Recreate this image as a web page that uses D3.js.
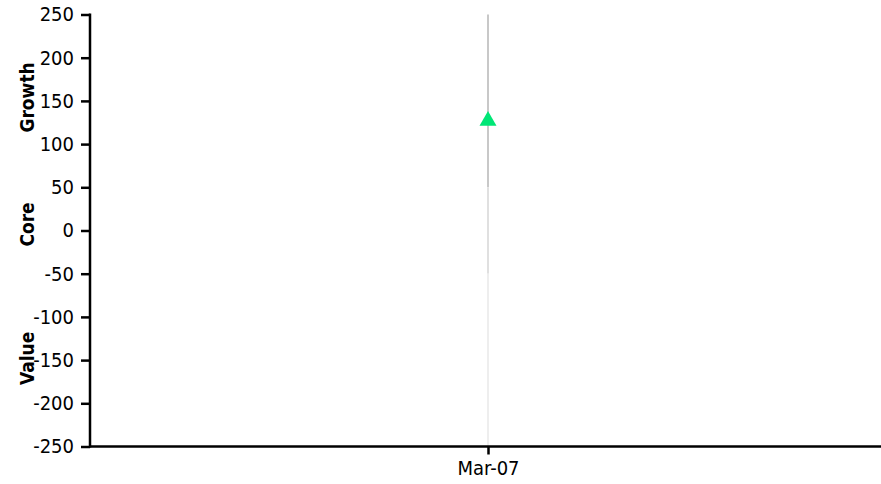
<!DOCTYPE html>
<html><head><meta charset="utf-8">
<script src="https://cdn.jsdelivr.net/npm/d3@7/dist/d3.min.js"></script>
<style>
body{margin:0;background:#fff;}
svg{display:block;}
.tk{font-family:"DejaVu Sans Condensed","DejaVu Sans",sans-serif;font-stretch:condensed;font-size:20px;fill:#000;}
.bl{font-family:"DejaVu Sans Condensed","DejaVu Sans",sans-serif;font-stretch:condensed;font-weight:bold;font-size:19px;fill:#000;}
</style></head>
<body><svg id="chart" width="881" height="484"></svg>
<script>
const categories = ["Mar-07"];
const values = [127];
const yTicks = [-250,-200,-150,-100,-50,0,50,100,150,200,250];
const bandNames = ["Growth","Core","Value"];
const bandLo = [50,-50,-250];
const bandHi = [250,50,-50];
const bandColors = ["#c8c8c8","#e0e0e0","#eeeeee"];
const bandLabelValues = [154,7,-148];

const bands = bandNames.map((n,i)=>({name:n, lo:bandLo[i], hi:bandHi[i], color:bandColors[i], lv:bandLabelValues[i]}));

const svg = d3.select("#chart");
const y = d3.scaleLinear().domain([-250,250]).range([446.5,14.5]);
const x = d3.scalePoint().domain(categories).range([90,886]).padding(0.5);

// vertical band line
svg.append("g").selectAll("line").data(bands).join("line")
  .attr("x1", x(categories[0])).attr("x2", x(categories[0]))
  .attr("y1", d=>y(d.hi)).attr("y2", d=>y(d.lo))
  .attr("stroke", d=>d.color).attr("stroke-width", 2);

// y axis
const ya = svg.append("g").attr("transform","translate(90,0)")
  .call(d3.axisLeft(y).tickValues(yTicks).tickSize(9).tickPadding(7).tickFormat(d=>String(d)));
ya.selectAll("path,line").attr("stroke","#000").attr("stroke-width",2.5);
ya.select("path").attr("d","M0,13.5V447.5");
ya.selectAll("text").attr("class","tk");

// x axis
const xa = svg.append("g").attr("transform","translate(0,446.5)")
  .call(d3.axisBottom(x).tickSize(8).tickPadding(6));
xa.selectAll("path,line").attr("stroke","#000").attr("stroke-width",2.5);
xa.select("path").attr("d","M90,0H881");
xa.selectAll("text").attr("class","tk");

// band labels
svg.append("g").selectAll("text").data(bands).join("text")
  .attr("class","bl")
  .attr("transform", d=>`translate(34,${y(d.lv)}) rotate(-90)`)
  .attr("text-anchor","middle")
  .text(d=>d.name);

// marker
svg.append("g").selectAll("path").data(values).join("path")
  .attr("d", d3.symbol().type(d3.symbolTriangle).size(125))
  .attr("transform",(d,i)=>`translate(${x(categories[i])},${y(d)})`)
  .attr("fill","#00e676");
</script></body></html>
